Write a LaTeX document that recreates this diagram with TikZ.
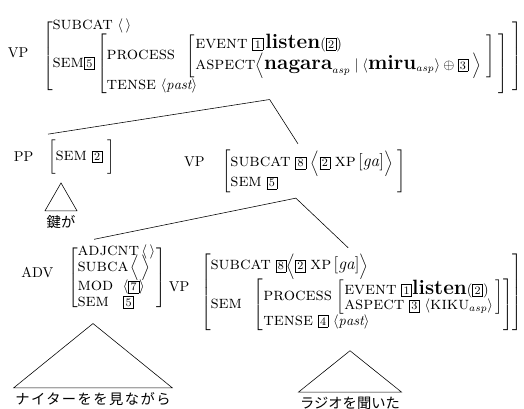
\documentclass[tikz,border=0pt]{standalone}
\usepackage{amsmath}
\usepackage{amssymb}
\usepackage{fontspec}
\newfontfamily\jafont{Noto Sans CJK JP}
\usetikzlibrary{positioning}

% boxed tags, feature names and big values
\setlength{\fboxsep}{1.2pt}
\renewcommand{\arraystretch}{0.9}
\newcommand{\tg}[1]{\fbox{\footnotesize #1}}
\newcommand{\ft}[1]{\text{\fontsize{12.5}{14}\selectfont\textsc{#1}}}
\newcommand{\val}[1]{\text{\fontsize{14.5}{17}\selectfont\bfseries #1}}
\newcommand{\ga}{\text{\large[\textit{ga}]}}

\begin{document}
\begin{tikzpicture}[x=0.7pt, y=-0.7pt,
    avm/.style={inner sep=0pt, outer xsep=0pt, outer ysep=4pt, anchor=west},
    cat/.style={inner sep=0pt},
    leaf/.style={inner xsep=1pt, inner ysep=3pt, font=\jafont}]
    \useasboundingbox (0,0) rectangle (524,409);

    % mother VP
    \node[avm] (top) at (43,56) {$\left[\begin{array}{@{}l@{\hspace{3pt}}}
        \ft{subcat}\ \langle\,\rangle\\
        \ft{sem}\tg{5}\left[\begin{array}{@{}l@{\hspace{3pt}}}
            \ft{process}\ \ \left[\begin{array}{@{}l@{\hspace{3pt}}}
                \ft{event}\ \tg{1}\,\val{listen}(\tg{2})\\
                \ft{aspect}\Big\langle\val{nagara}_{asp}\mid\langle\val{miru}_{asp}\rangle\oplus\tg{3}\ \Big\rangle
            \end{array}\right]\\
            \ft{tense}\ \langle\mathit{past}\rangle
        \end{array}\right]
    \end{array}\right]$};
    \node[cat, left=10pt of top, yshift=2pt] (topcat) {VP};

    % PP daughter
    \node[avm] (pp) at (48,157) {$\left[\rule[-7.5pt]{0pt}{18pt}\ft{sem}\ \tg{2}\ \right]$};
    \node[cat, left=10pt of pp] (ppcat) {PP};

    % head VP
    \node[avm] (mid) at (222,171) {$\left[\begin{array}{@{}l@{\hspace{3pt}}}
        \ft{subcat}\ \tg{8}\ \Big\langle\tg{2}\ \ft{xp}\,\ga\Big\rangle\\
        \ft{sem}\ \tg{5}
    \end{array}\right]$};
    \node[cat, left=12pt of mid, yshift=6.5pt] (midcat) {VP};

    % adverbial
    \node[avm] (adv) at (68,278) {$\left[\begin{array}{@{}l@{\hspace{1pt}}}
        \ft{adjcnt}\,\langle\,\rangle\\
        \ft{subca}\,\smash{\Big\langle\,\Big\rangle}\\[3pt]
        \ft{mod}\ \ \langle\tg{7}\rangle\\
        \ft{sem}\ \ \ \tg{5}
    \end{array}\right]$};
    \node[cat, left=10pt of adv, yshift=4pt] (advcat) {ADV};

    % lower VP
    \node[avm] (low) at (201,292) {$\left[\begin{array}{@{}l@{}}
        \ft{subcat}\ \tg{8}\Big\langle\tg{2}\ \ft{xp}\,\ga\Big\rangle\\
        \ft{sem}\ \ \left[\begin{array}{@{}l@{}}
            \ft{process}\,\left[\begin{array}{@{}l@{\hspace{2pt}}}
                \ft{event}\ \tg{1}\val{listen}(\tg{2})\\
                \ft{aspect}\ \tg{3}\ \langle\ft{kiku}_{asp}\rangle
            \end{array}\right]\\
            \ft{tense}\ \tg{4}\ \langle\mathit{past}\rangle
        \end{array}\right]
    \end{array}\right]$};
    \node[cat, left=8pt of low, yshift=3.5pt] (lowcat) {VP};

    % words under the triangles
    \node[leaf] (kagi) at (61,222) {鍵が};
    \node[leaf] (naita) at (93,399) {\addfontfeatures{LetterSpace=10}ナイターをを見ながら};
    \node[leaf] (rajio) at (350,403) {ラジオを聞いた};

    % branches
    \draw ([xshift=-9pt]top.south) -- (pp.north west);
    \draw ([xshift=-9pt]top.south) -- ([xshift=-11pt]mid.north);
    \draw ([xshift=-12.5pt]mid.south) -- ([xshift=-16pt]adv.north);
    \draw ([xshift=-12.5pt]mid.south) -- ([xshift=-9.5pt]low.north);

    % triangles
    \draw (kagi.north west) -- ([yshift=19.5pt]kagi.north) -- (kagi.north east) -- cycle;
    \draw (naita.north west) -- ([yshift=45pt]naita.north) -- (naita.north east) -- cycle;
    \draw (rajio.north west) -- ([yshift=29pt]rajio.north) -- (rajio.north east) -- cycle;
\end{tikzpicture}
\end{document}
